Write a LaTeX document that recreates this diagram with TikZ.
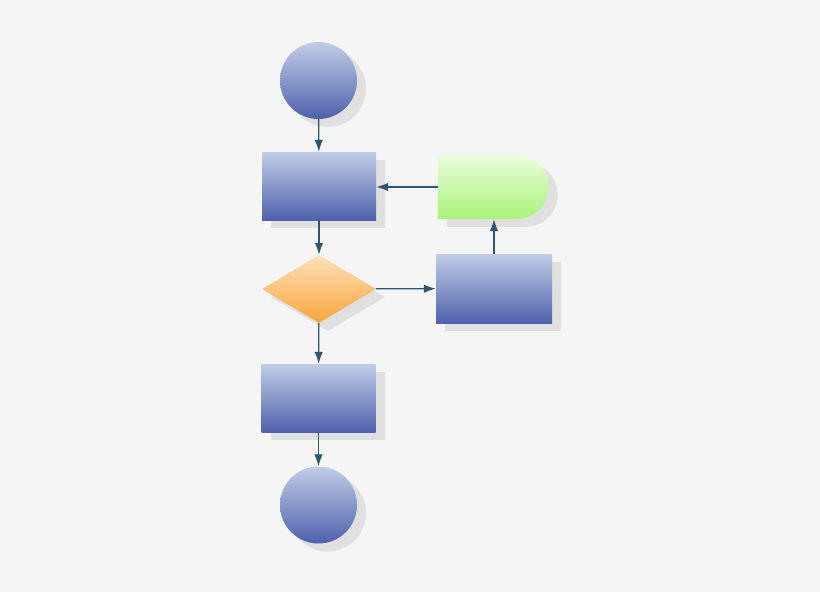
\documentclass[tikz,border=0pt]{standalone}
\usetikzlibrary{arrows.meta,shapes.geometric,shadows}
\definecolor{bg}{HTML}{F5F5F5}
\definecolor{bluetop}{HTML}{C2CDE7}
\definecolor{bluebot}{HTML}{4E61AB}
\definecolor{greentop}{HTML}{EAFCDC}
\definecolor{greenbot}{HTML}{AAF27A}
\definecolor{orangetop}{HTML}{FDE0BA}
\definecolor{orangebot}{HTML}{F9A53C}
\definecolor{shad}{HTML}{E0E0E0}
\definecolor{arr}{HTML}{2F5573}
\tikzset{
  shd/.style={general shadow={shadow xshift=9pt, shadow yshift=-8pt, fill=shad}},
  bluefill/.style={top color=bluetop, bottom color=bluebot, draw=none, shd},
  term/.style={circle, minimum size=77pt, inner sep=0pt, bluefill},
  proc/.style={rectangle, minimum width=114pt, minimum height=68pt, inner sep=0pt, bluefill},
  dec/.style={diamond, aspect=1.68, minimum width=114pt, minimum height=68pt, inner sep=0pt,
    top color=orangetop, bottom color=orangebot, draw=none, shd},
  conn/.style={draw=arr, line width=1.3pt, -{Latex[length=12pt,width=8.5pt]}}
}
\begin{document}
\begin{tikzpicture}[x=1pt,y=-1pt]
\fill[bg] (0,0) rectangle (820,592);
\useasboundingbox (0,0) rectangle (820,592);
\node[term] (start) at (318.5,80.5) {};
\node[proc] (p1) at (319,186) {};
\node[dec] (d) at (319,289) {};
\node[proc, minimum width=116pt, minimum height=69pt] (p3) at (494,288.5) {};
\node[proc] (p2) at (318.5,398) {};
\node[term] (stop) at (318.5,505) {};
% delay shape
\node[rectangle, minimum width=111pt, minimum height=64pt, inner sep=0pt] (g) at (493.5,187) {};
\fill[shad] ([shift={(9,8)}]g.north west) -- ++(79,0) arc[start angle=90, end angle=-90, x radius=32, y radius=-32] -- ++(-79,0) -- cycle;
\shade[top color=greentop, bottom color=greenbot] (g.north west) -- ++(79,0) arc[start angle=90, end angle=-90, x radius=32, y radius=-32] -- (g.south west) -- cycle;
\draw[conn] (start) -- (p1);
\draw[conn] (p1) -- (d);
\draw[conn] (d) -- (p2);
\draw[conn] (p2) -- (stop);
\draw[conn] (d) -- (p3);
\draw[conn] (p3.north) -- (g.south -| p3.north);
\draw[conn] (g.west) -- (p1.east |- g.west);
\end{tikzpicture}
\end{document}
